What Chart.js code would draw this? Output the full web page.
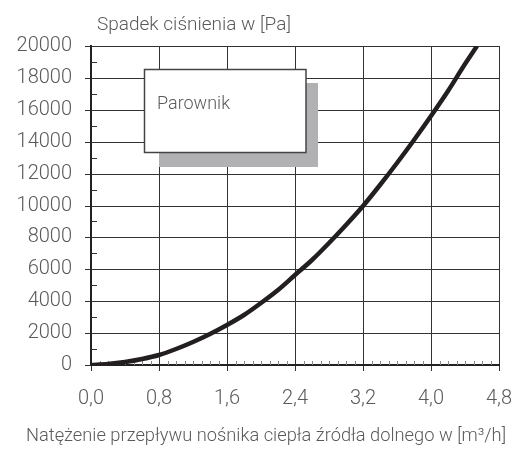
<!DOCTYPE html>
<html>
<head>
<meta charset="utf-8">
<script src="https://cdn.jsdelivr.net/npm/chart.js@4.4.1/dist/chart.umd.min.js"></script>
<style>
  html, body { margin: 0; padding: 0; background: #fff; }
  #wrap { width: 520px; height: 455px; }
</style>
</head>
<body>
<div id="wrap"><canvas id="chart"></canvas></div>
<script>
// Evaporator curve: flow rate [m3/h] vs pressure drop [Pa]
const flowRates = [0, 0.2, 0.4, 0.6, 0.8, 1.0, 1.2, 1.4, 1.6, 1.8, 2.0, 2.2, 2.4, 2.6, 2.8, 3.0, 3.2, 3.4, 3.6, 3.8, 4.0, 4.2, 4.4, 4.54];
const pressureDrops = [0, 40, 160, 360, 640, 1000, 1420, 1920, 2500, 3160, 3900, 4720, 5620, 6600, 7660, 8800, 10000, 11280, 12640, 14080, 15600, 17200, 18850, 20000];

const xTicks = [0, 0.8, 1.6, 2.4, 3.2, 4.0, 4.8];
const yTicks = [0, 2000, 4000, 6000, 8000, 10000, 12000, 14000, 16000, 18000, 20000];
const xMinorTicks = [0.1, 0.2, 0.3, 0.4, 0.5, 0.6, 0.7, 0.9, 1.0, 1.1, 1.2, 1.3, 1.4, 1.5, 1.7, 1.8, 1.9, 2.0, 2.1, 2.2, 2.3, 2.5, 2.6, 2.7, 2.8, 2.9, 3.0, 3.1, 3.3, 3.4, 3.5, 3.6, 3.7, 3.8, 3.9, 4.1, 4.2, 4.3, 4.4, 4.5, 4.6, 4.7];
const yMinorTicks = [1000, 3000, 5000, 7000, 9000, 11000, 13000, 15000, 17000, 19000];

const yAxisTitle = 'Spadek ciśnienia w [Pa]';
const xAxisTitle = 'Natężenie przepływu nośnika ciepła źródła dolnego w [m³/h]';
const boxLabel = 'Parownik';

const FONT = 'Roboto';
const TEXT = '#5a5a5a';
const GRID = '#333';

// minor ticks, label box and the free-standing axis titles
const decorPlugin = {
    id: 'decor',
    beforeDatasetsDraw(chart) {
        const ctx = chart.ctx;
        const xs = chart.scales.x;
        const ys = chart.scales.y;
        const area = chart.chartArea;
        ctx.save();

        // minor ticks on the bottom axis
        ctx.strokeStyle = '#888';
        ctx.lineWidth = 1;
        xMinorTicks.forEach(v => {
            const px = Math.round(xs.getPixelForValue(v)) + 0.5;
            ctx.beginPath();
            ctx.moveTo(px, area.bottom);
            ctx.lineTo(px, area.bottom - 4);
            ctx.stroke();
        });

        // minor ticks on the left axis
        ctx.strokeStyle = GRID;
        yMinorTicks.forEach(v => {
            const py = Math.round(ys.getPixelForValue(v)) + 0.5;
            ctx.beginPath();
            ctx.moveTo(area.left, py);
            ctx.lineTo(area.left + 6, py);
            ctx.stroke();
        });

        // label box with its shadow
        ctx.fillStyle = '#b1b1b4';
        ctx.fillRect(159, 83, 159, 84);
        ctx.fillStyle = '#fff';
        ctx.fillRect(144, 69, 162, 83);
        ctx.strokeStyle = '#444';
        ctx.lineWidth = 1.5;
        ctx.strokeRect(144.5, 69.5, 161.5, 83);

        ctx.fillStyle = TEXT;
        ctx.font = '300 18px ' + FONT;
        ctx.textAlign = 'left';
        ctx.textBaseline = 'alphabetic';
        ctx.fillText(boxLabel, 157, 109);
        ctx.restore();
    },
    afterDraw(chart) {
        const ctx = chart.ctx;
        ctx.save();
        ctx.fillStyle = TEXT;
        ctx.font = '300 19px ' + FONT;
        ctx.textBaseline = 'alphabetic';
        ctx.textAlign = 'left';
        ctx.fillText(yAxisTitle, 97, 30);
        ctx.textAlign = 'center';
        ctx.font = '300 18.3px ' + FONT;
        ctx.fillText(xAxisTitle, 266, 441);
        ctx.restore();
    }
};

const ctx = document.getElementById('chart').getContext('2d');

new Chart(ctx, {
    type: 'line',
    data: {
        datasets: [{
            data: flowRates.map((x, i) => ({ x: x, y: pressureDrops[i] })),
            borderColor: '#231f20',
            borderWidth: 4.5,
            pointRadius: 0,
            fill: false,
            cubicInterpolationMode: 'monotone'
        }]
    },
    options: {
        responsive: true,
        maintainAspectRatio: false,
        animation: false,
        layout: { padding: { left: 0, top: 46, right: 21, bottom: 0 } },
        plugins: {
            legend: { display: false },
            tooltip: { enabled: false }
        },
        scales: {
            x: {
                type: 'linear',
                min: 0,
                max: 4.8,
                alignToPixels: true,
                afterBuildTicks: scale => { scale.ticks = xTicks.map(v => ({ value: v })); },
                afterFit: scale => {
                    scale.height = 90;
                    scale.paddingLeft = 0;
                    scale.paddingRight = 0;
                },
                ticks: {
                    color: TEXT,
                    font: { family: FONT, size: 20, weight: '300' },
                    padding: 16,
                    maxRotation: 0,
                    callback: v => v.toFixed(1).replace('.', ',')
                },
                grid: { color: GRID, lineWidth: 1, tickLength: 6 },
                border: { color: '#222', width: 2 }
            },
            y: {
                type: 'linear',
                min: 0,
                max: 20000,
                alignToPixels: true,
                afterBuildTicks: scale => { scale.ticks = yTicks.map(v => ({ value: v })); },
                afterFit: scale => {
                    scale.width = 91;
                    scale.paddingTop = 0;
                    scale.paddingBottom = 0;
                },
                ticks: {
                    color: TEXT,
                    font: { family: FONT, size: 20, weight: '300' },
                    padding: 13,
                    callback: v => String(v)
                },
                grid: { color: GRID, lineWidth: 1, tickLength: 6 },
                border: { color: '#222', width: 2 }
            }
        }
    },
    plugins: [decorPlugin]
});
</script>
</body>
</html>
